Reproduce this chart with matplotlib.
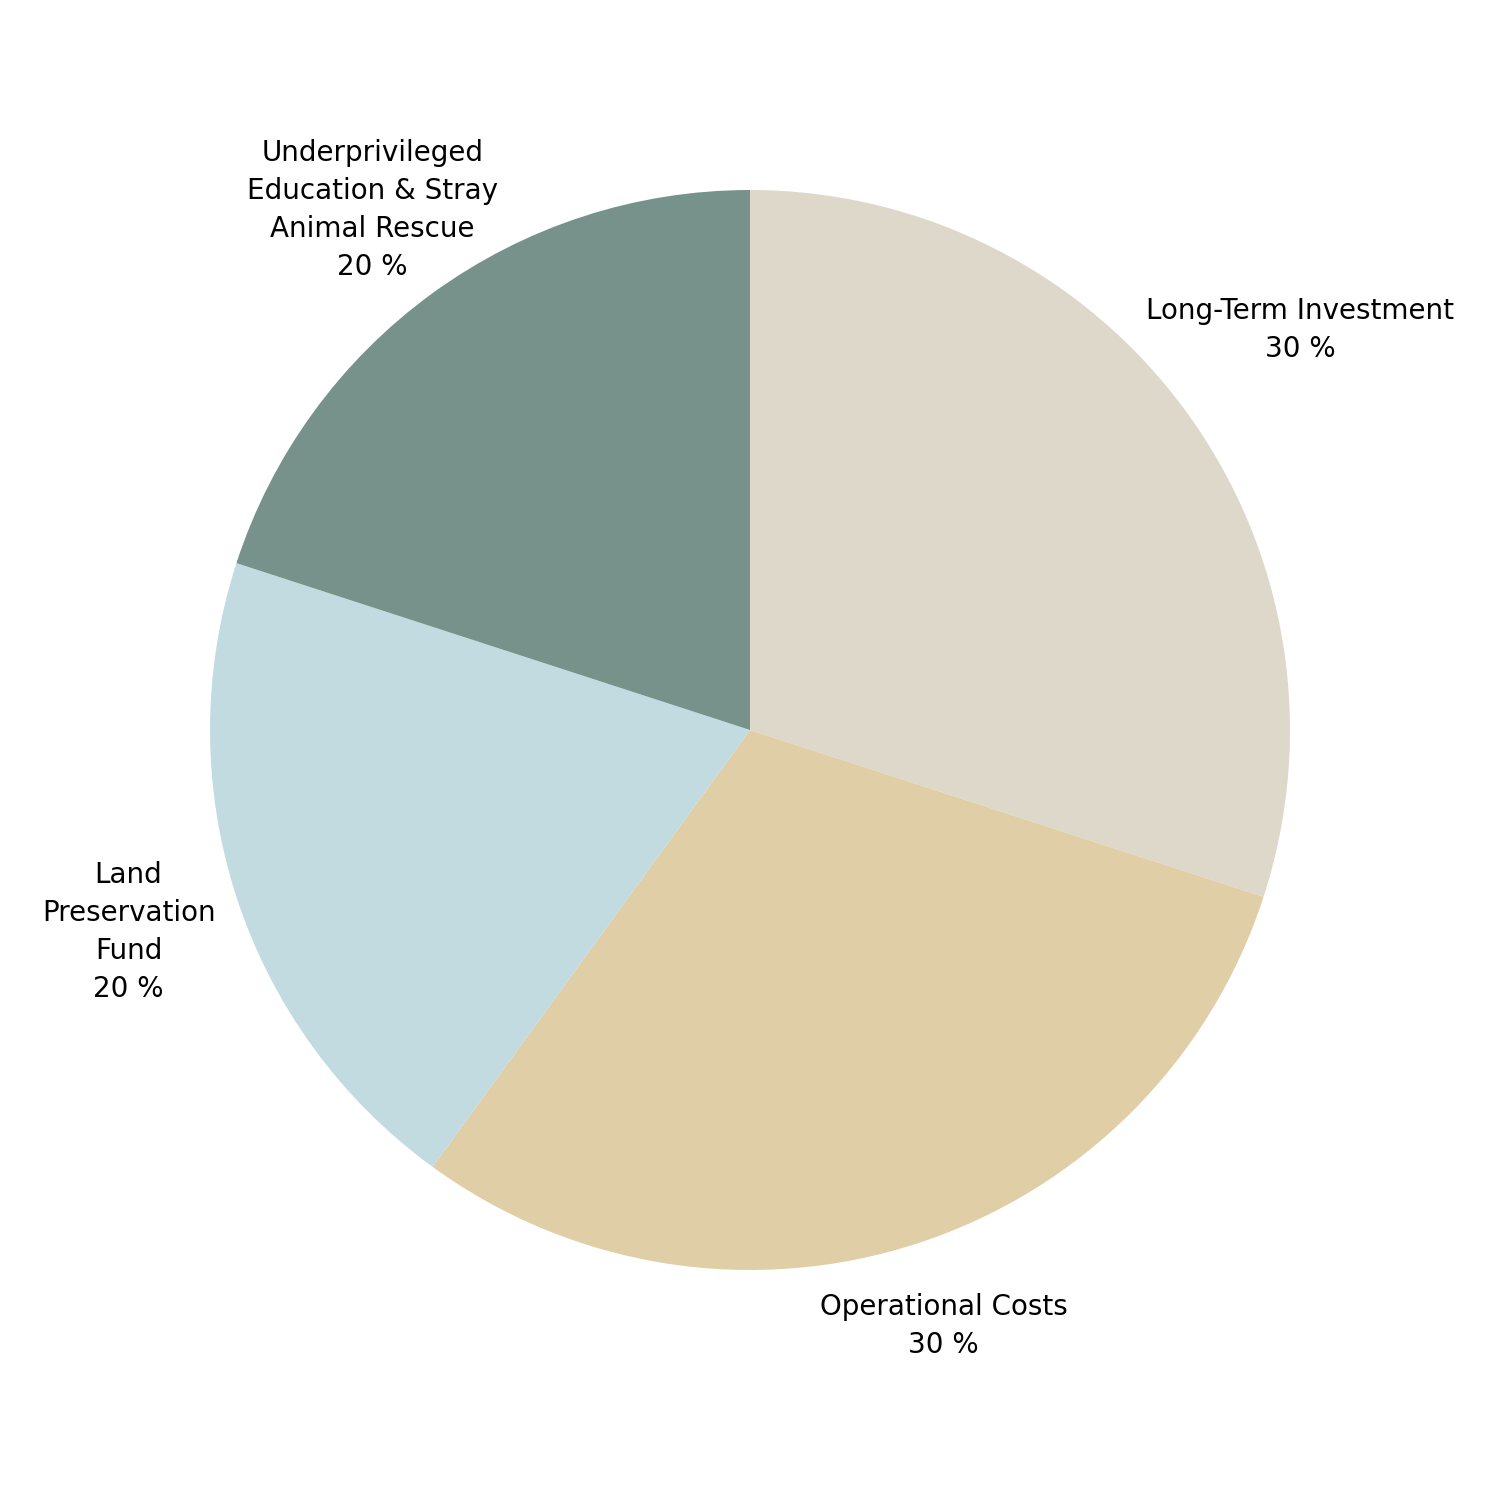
import matplotlib
matplotlib.use("Agg")
import matplotlib.pyplot as plt
import numpy as np

# data
labels = ["Long-Term Investment", "Operational Costs",
          "Land\nPreservation\nFund",
          "Underprivileged\nEducation & Stray\nAnimal Rescue"]
shares = [30, 30, 20, 20]
colors = ["#DED8CB", "#E0CEA6", "#C1DBE1", "#77928B"]
label_dist = [1.26, 1.16, 1.21, 1.19]

plt.rcParams['font.family'] = ['DejaVu Sans']

fig = plt.figure(figsize=(15, 15), dpi=100)
ax = fig.add_axes([0, 0, 1, 1])
R = 540.0
ax.axis('off')

wedges, _ = ax.pie(shares, colors=colors, startangle=90, counterclock=False,
                   radius=1.0, wedgeprops=dict(linewidth=0))
ax.set_xlim(-750 / R, 750 / R)
ax.set_ylim(-770 / R, 730 / R)
ax.set_aspect('equal')

for w, lab, s, d in zip(wedges, labels, shares, label_dist):
    mid = np.deg2rad((w.theta1 + w.theta2) / 2)
    x, y = d * np.cos(mid), d * np.sin(mid)
    ax.text(x, y, f"{lab}\n{s} %", ha='center', va='center',
            fontsize=20, linespacing=1.45, color='black')

fig.savefig("out.png", dpi=100, facecolor='white')
